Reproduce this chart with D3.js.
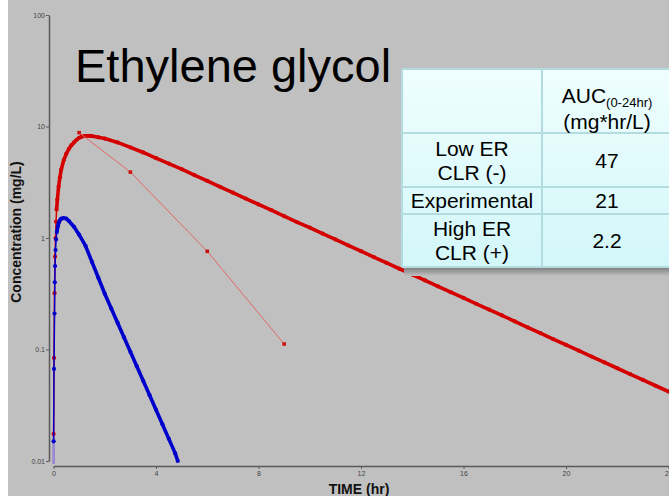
<!DOCTYPE html>
<html><head><meta charset="utf-8">
<script src="https://cdn.jsdelivr.net/npm/d3@7"></script>
<style>html,body{margin:0;padding:0;background:#fff;}svg{display:block;font-family:"Liberation Sans",Arial,sans-serif;}</style>
</head><body>
<svg id="c" width="669" height="496"></svg>
<script>
// ---- data ----
const lowTimes = [0.005,0.02,0.04,0.06,0.08,0.1,0.12,0.15,0.2,0.25,0.3,0.4,0.5,0.6,0.7,0.8,0.9,1.0,1.1,1.2,1.3,1.4,1.5,1.75,2.0,2.5,3.0,3.5,4.0,4.5,5.0,5.5,6.0,6.5,7.0,7.5,8.0,8.5,9.0,9.5,10,10.5,11,11.5,12,12.5,13,13.5,14,14.5,15,15.5,16,16.5,17,17.5,18,18.5,19,19.5,20,20.5,21,21.5,22,22.5,23,23.5,24];
const lowConc  = [0.0175,0.084,0.32,0.68,1.0,1.4,1.8,2.2,2.9,3.5,4.1,5.0,5.7,6.3,6.8,7.2,7.6,7.9,8.1,8.2,8.25,8.25,8.2,8.0,7.8,7.2,6.5,5.85,5.2,4.65,4.14,3.67,3.25,2.88,2.55,2.26,2.00,1.78,1.57,1.39,1.24,1.095,0.97,0.86,0.762,0.675,0.598,0.530,0.470,0.416,0.369,0.327,0.290,0.257,0.228,0.202,0.179,0.158,0.140,0.124,0.110,0.0976,0.0865,0.0766,0.0679,0.0602,0.0533,0.0473,0.0419];
const highTimes = [0.005,0.02,0.04,0.05,0.06,0.08,0.1,0.13,0.17,0.2,0.25,0.3,0.4,0.5,0.6,0.8,1.0,1.25,1.5,1.75,2.0,2.25,2.5,2.75,3.0,3.25,3.5,3.75,4.0,4.25,4.5,4.75,4.85];
const highConc  = [0.015,0.067,0.21,0.40,0.56,0.78,0.97,1.13,1.27,1.36,1.44,1.49,1.51,1.49,1.42,1.26,1.07,0.85,0.61,0.44,0.316,0.234,0.174,0.129,0.0955,0.0708,0.0525,0.0389,0.0288,0.0214,0.0158,0.0117,0.0100];
const expTimes = [1,3,6,9];
const expConc  = [8.8,3.9,0.76,0.112];
const xTicks = [0,4,8,12,16,20,24];
const yTicks = [0.01,0.1,1,10,100];
const yTickLabels = ["0.01","0.1","1","10","100"];
const tableRows = [["Low ER","CLR (-)"],["Experimental"],["High ER","CLR (+)"]];
const tableAUC = ["47","21","2.2"];

// ---- drawing ----
const svg = d3.select("#c");
svg.append("rect").attr("x",8).attr("y",0).attr("width",661).attr("height",496).attr("fill","#c0c0c0");

const x = d3.scaleLinear().domain([0,24]).range([53.5,668.5]);
const y = d3.scaleLog().domain([0.01,100]).range([461,15]);

// axes
const yAxis = d3.axisLeft(y).tickValues(yTicks).tickSize(3).tickSizeOuter(0)
  .tickFormat((d,i)=>yTickLabels[i]);
const gy = svg.append("g").attr("transform","translate(49,0)").call(yAxis);
gy.select(".domain").attr("stroke","#5a5a5a").attr("stroke-width",1.5);
gy.selectAll(".tick line").attr("stroke","#5a5a5a");
gy.selectAll(".tick text").attr("fill","#444").attr("font-size",7).attr("x",-4);

const xAxis = d3.axisBottom(x).tickValues(xTicks).tickSize(3).tickSizeOuter(0);
const gx = svg.append("g").attr("transform","translate(0,466)").call(xAxis);
gx.select(".domain").attr("stroke","#5a5a5a").attr("stroke-width",1.5);
gx.selectAll(".tick line").attr("stroke","#5a5a5a");
gx.selectAll(".tick text").attr("fill","#444").attr("font-size",7).attr("y",5);

svg.append("text").attr("x",359).attr("y",494).attr("text-anchor","middle")
  .attr("font-size",14).attr("font-weight","bold").attr("fill","#111").text("TIME (hr)");
svg.append("text").attr("transform","translate(21,232) rotate(-90)").attr("text-anchor","middle")
  .attr("font-size",14).attr("font-weight","bold").attr("fill","#111").text("Concentration (mg/L)");

// title
svg.append("text").attr("x",75).attr("y",82).attr("font-size",47).attr("fill","#000").text("Ethylene glycol");

// curves
const plot = svg.append("g");
const line = d3.line().x(d=>x(d[0])).y(d=>y(d[1]));
function model(times, conc, color, pale){
  const pts = times.map((t,i)=>[t,conc[i]]);
  plot.append("line").attr("x1",x(times[0])).attr("x2",x(times[0]))
    .attr("y1",y(conc[0])).attr("y2",464).attr("stroke",pale).attr("stroke-width",2);
  plot.append("path").datum(pts).attr("d",line).attr("fill","none")
    .attr("stroke",color).attr("stroke-width",1.5);
  plot.append("path").datum(pts.filter(p=>p[0]>=0.12)).attr("d",line).attr("fill","none")
    .attr("stroke",color).attr("stroke-width",3.6).attr("stroke-linejoin","round");
  plot.selectAll(null).data(pts).enter().append("circle")
    .attr("cx",d=>x(d[0])).attr("cy",d=>y(d[1])).attr("r",2.1).attr("fill",color);
}
model(lowTimes, lowConc, "#d40000", "#c86a8a");
model(highTimes, highConc, "#0000cc", "#8a8ae6");

const ePts = expTimes.map((t,i)=>[t,expConc[i]]);
plot.append("path").datum(ePts).attr("d",line).attr("fill","none").attr("stroke","#e06868").attr("stroke-width",1);
plot.selectAll(null).data(ePts).enter().append("rect")
  .attr("x",d=>x(d[0])-1.8).attr("y",d=>y(d[1])-1.8).attr("width",3.6).attr("height",3.6).attr("fill","#cc1111");

// table
const defs = svg.append("defs");
const gr = defs.append("linearGradient").attr("id","tg").attr("x1",0).attr("y1",0).attr("x2",0).attr("y2",1);
gr.append("stop").attr("offset","0%").attr("stop-color","#effefe");
gr.append("stop").attr("offset","100%").attr("stop-color","#d3f7f9");
const sh = defs.append("linearGradient").attr("id","sg").attr("x1",0).attr("y1",0).attr("x2",0).attr("y2",1);
sh.append("stop").attr("offset","0%").attr("stop-color","#7a7a7a");
sh.append("stop").attr("offset","100%").attr("stop-color","#c0c0c0");

const tx0 = 402, tx1 = 542, tx2 = 674;
const rowY = [69,133,187,214,267];
svg.append("rect").attr("x",tx0+2).attr("y",267).attr("width",tx2-tx0).attr("height",9).attr("fill","url(#sg)");
svg.append("rect").attr("x",tx0).attr("y",69).attr("width",tx2-tx0).attr("height",267-69).attr("fill","url(#tg)");
const tb = svg.append("g").attr("stroke","#b2dcdf").attr("stroke-width",2);
rowY.forEach(v=>tb.append("line").attr("x1",tx0).attr("x2",tx2).attr("y1",v).attr("y2",v));
[tx0,tx1].forEach(v=>tb.append("line").attr("x1",v).attr("x2",v).attr("y1",69).attr("y2",267));

const tt = svg.append("g").attr("font-size",21).attr("fill","#000").attr("text-anchor","middle");
const c1 = (tx0+tx1)/2, c2 = 607;
const h = tt.append("text").attr("x",c2).attr("y",103);
h.append("tspan").text("AUC");
h.append("tspan").attr("font-size",13).attr("dy",4).text("(0-24hr)");
tt.append("text").attr("x",c2).attr("y",129).text("(mg*hr/L)");
tableRows.forEach((lines,i)=>{
  const top = rowY[i+1], bot = rowY[i+2], mid = (top+bot)/2;
  lines.forEach((s,j)=>{
    tt.append("text").attr("x",c1).attr("y",mid + 7.5 + (j-(lines.length-1)/2)*24).text(s);
  });
  tt.append("text").attr("x",c2).attr("y",mid+7.5).text(tableAUC[i]);
});
</script>
</body></html>
